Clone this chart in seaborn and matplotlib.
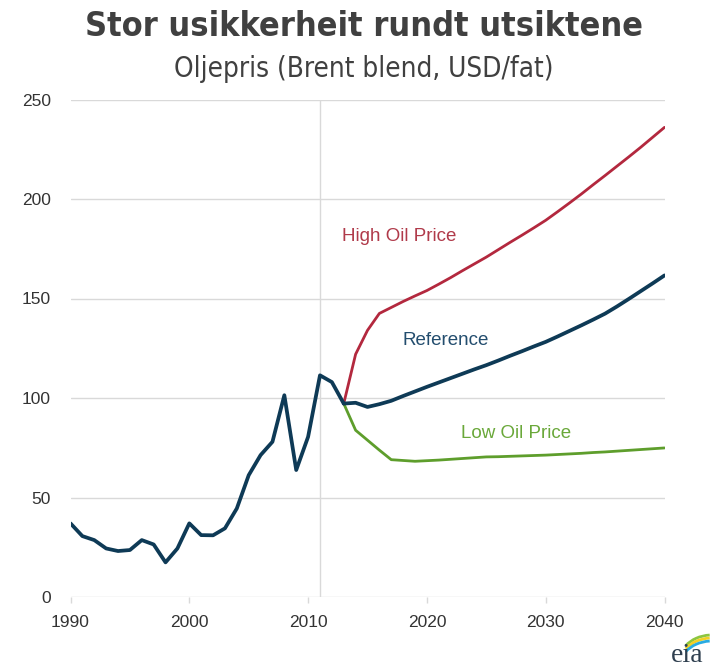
import matplotlib
matplotlib.use("Agg")
import matplotlib.pyplot as plt
import seaborn as sns
import pandas as pd
from matplotlib.patches import Arc

# ---------------- data ----------------
hist_years = list(range(1990, 2014))
hist_price = [37.0, 30.6, 28.6, 24.4, 23.1, 23.6, 28.6, 26.4, 17.4, 24.4,
              37.0, 31.1, 31.0, 34.5, 44.5, 61.2, 71.3, 78.0, 101.4, 63.8,
              80.5, 111.4, 108.0, 97.2]

proj_years = list(range(2013, 2041))
reference = [97.2, 97.6, 95.5, 96.9, 98.6, 101.0, 103.3, 105.6, 107.8, 110.0,
             112.2, 114.4, 116.5, 118.8, 121.2, 123.5, 125.9, 128.2, 130.9, 133.7,
             136.5, 139.4, 142.4, 146.0, 149.8, 153.7, 157.6, 161.6]
high_price = [97.2, 122.0, 134.0, 142.5, 145.5, 148.5, 151.3, 154.0, 157.2, 160.5,
              164.0, 167.4, 170.8, 174.5, 178.2, 181.8, 185.5, 189.3, 193.6, 198.0,
              202.5, 207.2, 211.8, 216.5, 221.2, 226.0, 231.0, 236.0]
low_price = [97.2, 83.8, 78.8, 73.8, 69.0, 68.6, 68.2, 68.5, 68.8, 69.2,
             69.6, 70.0, 70.4, 70.5, 70.7, 70.9, 71.1, 71.3, 71.6, 71.9,
             72.2, 72.6, 72.9, 73.3, 73.7, 74.1, 74.5, 74.9]

x_ticks = [1990, 2000, 2010, 2020, 2030, 2040]
y_ticks = [0, 50, 100, 150, 200, 250]

title = "Stor usikkerheit rundt utsiktene"
subtitle = "Oljepris (Brent blend, USD/fat)"

# ---------------- style ----------------
sns.set_theme(style="white")
plt.rcParams['font.family'] = ['Liberation Sans', 'DejaVu Sans']

NAVY = "#0e3a56"
RED = "#b3283e"
GREEN = "#5e9e2c"
GRID = "#d9d9d9"

fig = plt.figure(figsize=(7.12, 6.72), dpi=100)
fig.patch.set_facecolor("white")
ax = fig.add_axes([70.5 / 712, 75 / 672, 594 / 712, 497.5 / 672])
ax.set_facecolor("none")

df_hist = pd.DataFrame({"year": hist_years, "price": hist_price})
df_ref = pd.DataFrame({"year": proj_years, "price": reference})
df_high = pd.DataFrame({"year": proj_years, "price": high_price})
df_low = pd.DataFrame({"year": proj_years, "price": low_price})

# grid
for v in y_ticks:
    ax.axhline(v, color=GRID, lw=1.0, zorder=0)
ax.axvline(2011, color=GRID, lw=1.0, zorder=0)

sns.lineplot(data=df_high, x="year", y="price", ax=ax, color=RED, lw=2.0, zorder=2)
sns.lineplot(data=df_low, x="year", y="price", ax=ax, color=GREEN, lw=2.0, zorder=2)
sns.lineplot(data=df_ref, x="year", y="price", ax=ax, color=NAVY, lw=2.7, zorder=3)
sns.lineplot(data=df_hist, x="year", y="price", ax=ax, color=NAVY, lw=2.7, zorder=4)

ax.text(2017.7, 181, "High Oil Price", color="#b03a4a", fontsize=13.5, ha="center", va="center")
ax.text(2021.6, 129, "Reference", color="#234d6e", fontsize=13.5, ha="center", va="center")
ax.text(2027.5, 82, "Low Oil Price", color="#6aa83a", fontsize=13.5, ha="center", va="center")

ax.set_xlim(1990, 2040)
ax.set_ylim(0, 250)
ax.set_xticks(x_ticks)
ax.set_yticks(y_ticks)
ax.set_xlabel("")
ax.set_ylabel("")
for s in ax.spines.values():
    s.set_visible(False)
ax.tick_params(axis="x", length=4, width=1, color=GRID, pad=9, labelsize=12.5, labelcolor="#333333", bottom=True)
ax.tick_params(axis="y", length=0, pad=14, labelsize=12.5, labelcolor="#333333")

# titles
fig.text(364 / 712, 1 - 27 / 672, title, ha="center", va="center", fontsize=24.5, fontweight="bold",
         color="#404040", family=["DejaVu Sans"], fontstretch="condensed")
fig.text(364 / 712, 1 - 69 / 672, subtitle, ha="center", va="center", fontsize=20,
         color="#404040", family=["DejaVu Sans"], fontstretch="condensed")

# eia logo
fig.text(687 / 712, 1 - 656 / 672, "eia", ha="center", va="center", fontsize=20,
         color="#2f3f4f", family=["Liberation Serif", "DejaVu Serif"])
for i, c in enumerate(["#8dc63f", "#f2d024", "#29abe2"]):
    arc = Arc((712 / 712, 1 - (660 + i * 3) / 672), 64 / 712, 50 / 672, theta1=95, theta2=150,
              transform=fig.transFigure, color=c, lw=2)
    fig.add_artist(arc)

fig.savefig("out.png", dpi=100)
